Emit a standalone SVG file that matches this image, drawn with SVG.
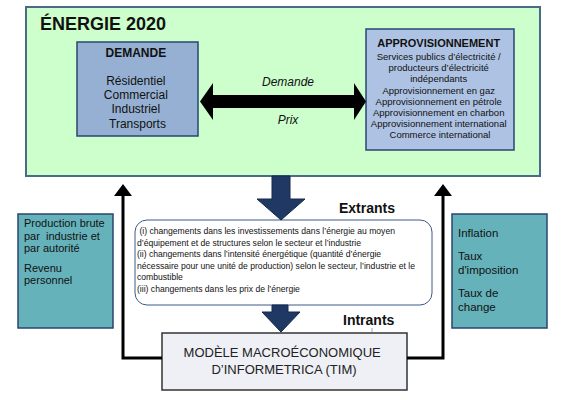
<svg xmlns="http://www.w3.org/2000/svg" width="565" height="400" viewBox="0 0 565 400">
<defs>
<style>
.sans{font-family:"Liberation Sans",Arial,sans-serif;}
.cal{font-family:"Liberation Sans",Arial,sans-serif;}
.hdr{font-weight:bold;fill:#111;}
.t{fill:#111;}
.conn{fill:none;stroke:#000;stroke-width:3;}
.navy{fill:#1f3864;stroke:#15284a;stroke-width:1;}
</style>
<marker id="ah" viewBox="0 0 12 18" refX="1" refY="9" markerWidth="12" markerHeight="18" markerUnits="userSpaceOnUse" orient="auto">
<path d="M0,0 L12,9 L0,18 Z" fill="#000"/>
</marker>
</defs>
<rect width="565" height="400" fill="#fff"/>

<g id="energie2020">
<rect x="26" y="7" width="514" height="169" fill="#ccffcc" stroke="#4a6a88" stroke-width="2"/>
<text x="40" y="30" class="sans hdr" font-size="18">ÉNERGIE 2020</text>
</g>

<g id="demande">
<rect x="77" y="42" width="121" height="94" fill="#95b0d2" stroke="#2a4572" stroke-width="1.5"/>
<text class="sans" text-anchor="middle" font-size="12">
<tspan x="137.5" y="57" class="hdr">DEMANDE</tspan>
<tspan x="137.5" y="85" class="t">Résidentiel</tspan>
<tspan x="137.5" y="99" class="t">Commercial</tspan>
<tspan x="137.5" y="113" class="t">Industriel</tspan>
<tspan x="137.5" y="128" class="t">Transports</tspan>
</text>
</g>

<g id="approvisionnement">
<rect x="366" y="29" width="148" height="121" fill="#aec3e3" stroke="#2a4572" stroke-width="1.5"/>
<text class="sans" text-anchor="middle" font-size="9.5">
<tspan x="440" y="47" class="hdr" font-size="11">APPROVISIONNEMENT</tspan>
<tspan x="440" y="60" class="t">Services publics d’électricité /</tspan>
<tspan x="440" y="71" class="t">producteurs d’électricité</tspan>
<tspan x="440" y="82" class="t">indépendants</tspan>
<tspan x="440" y="94" class="t">Approvisionnement en gaz</tspan>
<tspan x="440" y="105" class="t">Approvisionnement en pétrole</tspan>
<tspan x="440" y="116" class="t">Approvisionnement en charbon</tspan>
<tspan x="440" y="127" class="t">Approvisionnement international</tspan>
<tspan x="440" y="138" class="t">Commerce international</tspan>
</text>
</g>

<g id="extrants-box">
<rect x="135" y="220" width="297" height="85" rx="12" ry="12" fill="#fff" stroke="#3a5a8a" stroke-width="1"/>
<text class="cal t" font-size="8.6" fill="#111" xml:space="preserve"><tspan x="137" y="234"> (i) changements dans les investissements dans l’énergie au moyen</tspan><tspan x="137" y="246">d’équipement et de structures selon le secteur et l’industrie</tspan><tspan x="137" y="257">(ii) changements dans l’intensité énergétique (quantité d’énergie</tspan><tspan x="137" y="269">nécessaire pour une unité de production) selon le secteur, l’industrie et le</tspan><tspan x="137" y="280">combustible</tspan><tspan x="137" y="292">(iii) changements dans les prix de l’énergie</tspan></text>
</g>

<g id="production">
<rect x="18" y="214" width="95" height="114" fill="#66b2bb" stroke="#2a4572" stroke-width="1.5"/>
<text class="cal t" font-size="11" xml:space="preserve"><tspan x="24" y="227">Production brute</tspan><tspan x="24" y="240">par  industrie et</tspan><tspan x="24" y="252">par autorité</tspan><tspan x="24" y="272">Revenu</tspan><tspan x="24" y="284">personnel</tspan></text>
</g>

<g id="inflation">
<rect x="452" y="214" width="95" height="114" fill="#66b2bb" stroke="#2a4572" stroke-width="1.5"/>
<text class="sans t" font-size="11.5">
<tspan x="458" y="237">Inflation</tspan>
<tspan x="458" y="260">Taux</tspan>
<tspan x="458" y="274">d'imposition</tspan>
<tspan x="458" y="297">Taux de</tspan>
<tspan x="458" y="311">change</tspan>
</text>
</g>

<g id="tim">
<rect x="162" y="333" width="245" height="57" fill="#eef0f6" stroke="#333" stroke-width="1.5"/>
<text class="sans" text-anchor="middle" font-size="13" fill="#222">
<tspan x="284" y="357">MODÈLE MACROÉCONOMIQUE</tspan>
<tspan x="284" y="374">D’INFORMETRICA (TIM)</tspan>
</text>
</g>

<g id="connectors">
<path d="M213,83 L200,101.5 L213,120 L213,108 L354,108 L354,120 L366,101.5 L354,83 L354,95 L213,95 Z" fill="#000"/>
<text x="288" y="86" class="sans t" font-size="12" font-style="italic" text-anchor="middle">Demande</text>
<text x="288" y="124" class="sans t" font-size="12" font-style="italic" text-anchor="middle">Prix</text>
<path class="navy" d="M272,176 L290,176 L290,199 L305,199 L281,220 L257,199 L272,199 Z"/>
<path class="navy" d="M272,305 L288,305 L288,312 L300,312 L281,332 L262,312 L272,312 Z"/>
<text x="339" y="213" class="sans hdr" font-size="14">Extrants</text>
<text x="343" y="325" class="sans hdr" font-size="14">Intrants</text>
<line x1="372" y1="328" x2="372" y2="333" stroke="#666" stroke-width="0.6"/>
<path class="conn" d="M162,358 L123,358 L123,195" marker-end="url(#ah)"/>
<path class="conn" d="M407,358 L443,358 L443,195" marker-end="url(#ah)"/>
</g>
</svg>
